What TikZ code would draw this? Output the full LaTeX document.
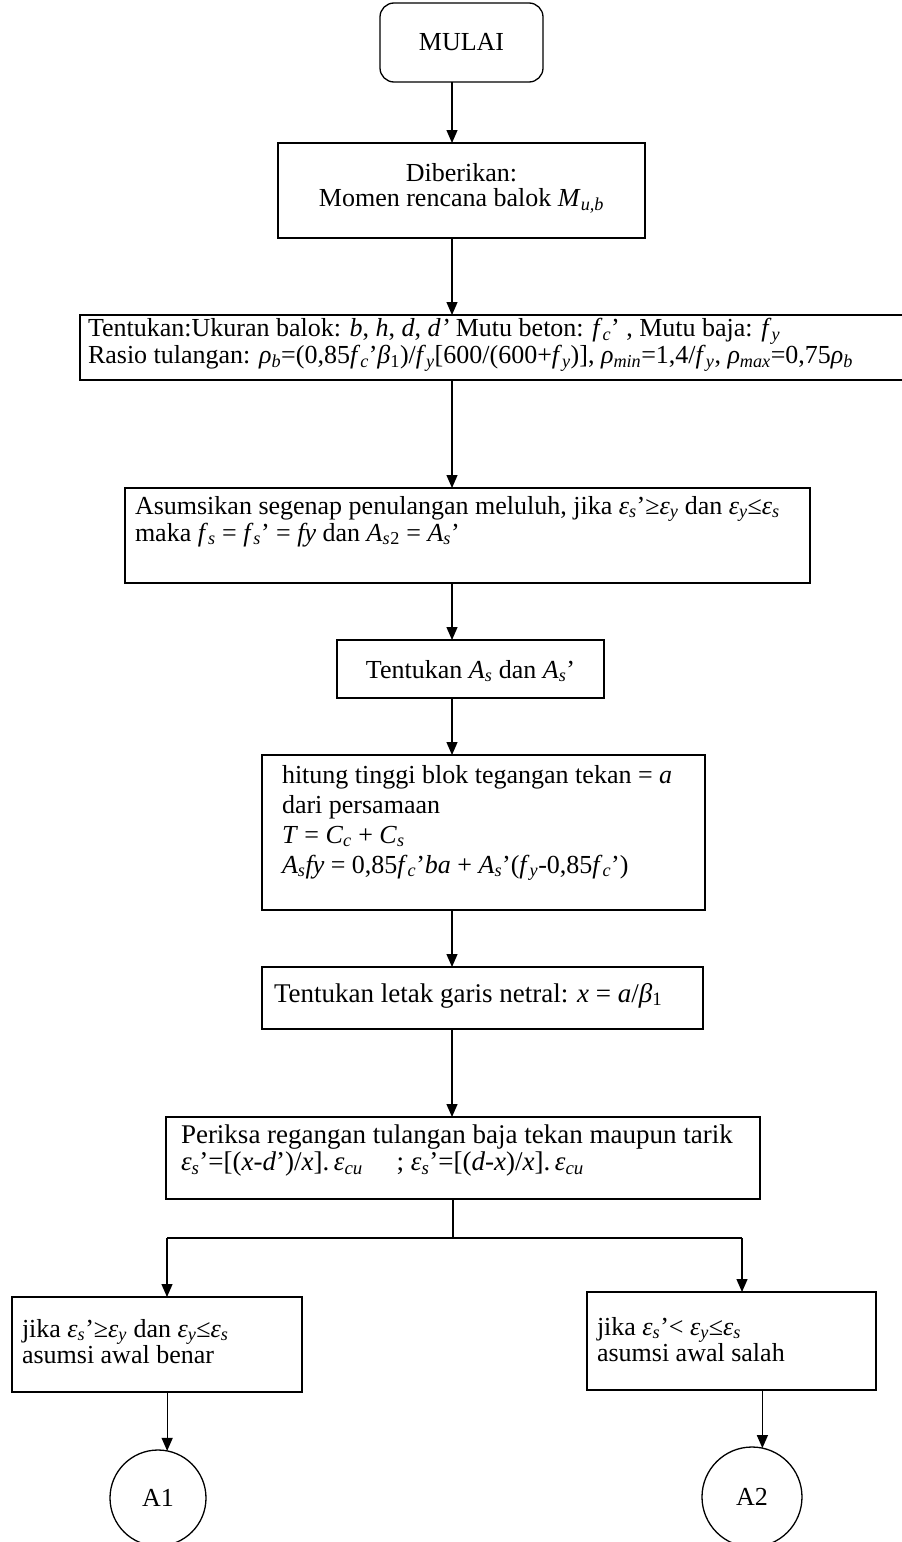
\documentclass[tikz,border=0pt]{standalone}
\usepackage{fontspec}
\setmainfont{Liberation Serif}
\usetikzlibrary{arrows.meta,calc}
\newcommand{\vi}[1]{\textit{#1}}
\newcommand{\sbi}[1]{\textsubscript{\itshape #1}}
\newcommand{\sbr}[1]{\textsubscript{#1}}
% [font size] width, height, top pad, baselineskip, content
\newcommand{\txtL}[6][26]{\parbox[c][#3][t]{#2}{\fontsize{#1}{#5}\selectfont\vspace*{#4}\raggedright\strut #6}}
\newcommand{\txtC}[6][26]{\parbox[c][#3][t]{#2}{\fontsize{#1}{#5}\selectfont\vspace*{#4}\centering\strut #6}}
\tikzset{
  flowbox/.style={draw, line width=1.3pt, rectangle, inner ysep=0pt, outer sep=0pt, anchor=north west},
  startbox/.style={draw, line width=1.3pt, rounded corners=14pt, inner sep=0pt, outer sep=0pt, anchor=north west,
     minimum width=163pt, minimum height=79pt, font=\fontsize{26}{28}\selectfont},
  endcirc/.style={draw, line width=1.3pt, circle, inner sep=0pt, outer sep=0pt, font=\fontsize{26}{28}\selectfont},
  arr/.style={line width=1.3pt, -{Triangle[length=13pt,width=11pt]}},
  ln/.style={line width=1.3pt}
}
\begin{document}
\begin{tikzpicture}[x=1pt,y=-1pt]
\useasboundingbox (0,0) rectangle (902,1542);
\coordinate (tx) at (452,0);

\node[startbox] (start) at (380,3) {MULAI};

\node[flowbox, inner xsep=6pt] (given) at (278,143)
  {\txtC{355pt}{95pt}{20pt}{21pt}{Diberikan:\\ Momen rencana balok \vi{M}\sbi{u,b}}};

\node[flowbox, inner xsep=8pt] (input) at (80,315)
  {\txtL{810pt}{65pt}{3.6pt}{22pt}{Tentukan:Ukuran balok: \vi{b}, \vi{h}, \vi{d}, \vi{d'} Mutu beton: \vi{f}\sbi{c}' , Mutu baja: \vi{f}\sbi{y}\\
  Rasio tulangan: \vi{ρ}\sbi{b}=(0,85\vi{f}\sbi{c}'\vi{β}\sbr{1})/\vi{f}\sbi{y}[600/(600+\vi{f}\sbi{y})], \vi{ρ}\sbi{min}=1,4/\vi{f}\sbi{y}, \vi{ρ}\sbi{max}=0,75\vi{ρ}\sbi{b}}};

\node[flowbox, inner xsep=10pt] (assume) at (125,488)
  {\txtL{665pt}{95pt}{8pt}{20pt}{Asumsikan segenap penulangan meluluh, jika \vi{ε}\sbi{s}'≥\vi{ε}\sbi{y} dan \vi{ε}\sbi{y}≤\vi{ε}\sbi{s}\\
  maka \vi{f}\sbi{s} = \vi{f}\sbi{s}' = \vi{fy} dan \vi{A}\sbi{s}\sbr{2} = \vi{A}\sbi{s}'}};

\node[flowbox, inner xsep=4pt] (area) at (337,640)
  {\txtC{259pt}{58pt}{20pt}{22pt}{Tentukan \vi{A}\sbi{s} dan \vi{A}\sbi{s}'}};

\node[flowbox, inner xsep=20pt] (block) at (262,755)
  {\txtL{403pt}{155pt}{7pt}{30pt}{hitung tinggi blok tegangan tekan = \vi{a}\\
  dari persamaan\\
  \vi{T} = \vi{C}\sbi{c} + \vi{C}\sbi{s}\\
  \vi{A}\sbi{s}\vi{fy} = 0,85\vi{f}\sbi{c}'\vi{ba} + \vi{A}\sbi{s}'(\vi{f}\sbi{y}-0,85\vi{f}\sbi{c}')}};

\node[flowbox, inner xsep=12pt] (neutral) at (262,967)
  {\txtL[27]{417pt}{62pt}{16pt}{22pt}{Tentukan letak garis netral: \vi{x} = \vi{a}/\vi{β}\sbr{1}}};

\node[flowbox, inner xsep=15pt] (check) at (166,1117)
  {\txtL[27]{564pt}{82pt}{8pt}{24pt}{Periksa regangan tulangan baja tekan maupun tarik\\
  \vi{ε}\sbi{s}'=[(\vi{x}-\vi{d}')/\vi{x}].\,\vi{ε}\sbi{cu}\quad\ ; \vi{ε}\sbi{s}'=[(\vi{d}-\vi{x})/\vi{x}].\,\vi{ε}\sbi{cu}}};

\node[flowbox, inner xsep=10pt] (yes) at (12,1297)
  {\txtL{270pt}{95pt}{22pt}{26pt}{jika \vi{ε}\sbi{s}'≥\vi{ε}\sbi{y} dan \vi{ε}\sbi{y}≤\vi{ε}\sbi{s}\\ asumsi awal benar}};

\node[flowbox, inner xsep=10pt] (no) at (587,1292)
  {\txtL{269pt}{98pt}{25pt}{25pt}{jika \vi{ε}\sbi{s}'< \vi{ε}\sbi{y}≤\vi{ε}\sbi{s}\\ asumsi awal salah}};

\node[endcirc, minimum size=96pt] (A1) at (158,1498) {A1};
\node[endcirc, minimum size=100pt] (A2) at (752,1497) {A2};

\draw[arr] (start.south -| tx) -- (given.north -| tx);
\draw[arr] (given.south -| tx) -- (input.north -| tx);
\draw[arr] (input.south -| tx) -- (assume.north -| tx);
\draw[arr] (assume.south -| tx) -- (area.north -| tx);
\draw[arr] (area.south -| tx) -- (block.north -| tx);
\draw[arr] (block.south -| tx) -- (neutral.north -| tx);
\draw[arr] (neutral.south -| tx) -- (check.north -| tx);

\coordinate (jn) at (453,1238);
\coordinate (jl) at (167,1238);
\coordinate (jr) at (742,1238);
\draw[ln] (check.south -| jn) -- (jn);
\draw[ln] (jl) -- (jr);
\draw[arr] (jl) -- (yes.north -| jl);
\draw[arr] (jr) -- (no.north -| jr);

\draw[arr] (yes.south -| A1.79) -- (A1.79);
\draw[arr] (no.south -| A2.78) -- (A2.78);
\end{tikzpicture}
\end{document}
